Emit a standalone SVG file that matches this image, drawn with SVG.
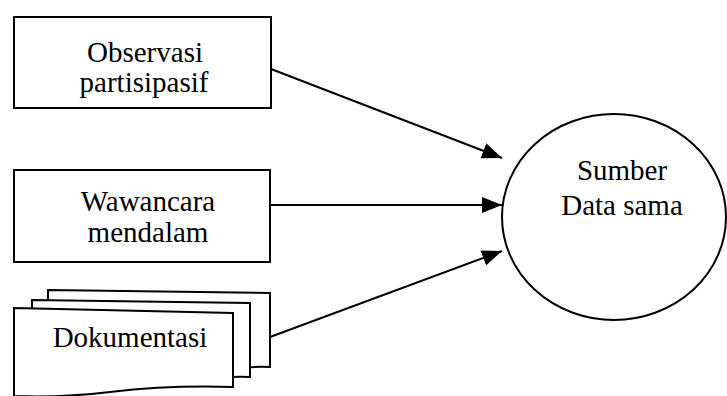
<svg xmlns="http://www.w3.org/2000/svg" width="727" height="396" viewBox="0 0 727 396">
<style>
.box{fill:#fff;stroke:#000;stroke-width:2}
.lbl{font-family:"Liberation Serif","Times New Roman",serif;font-size:29px;fill:#000;text-anchor:middle}
.conn{stroke:#000;stroke-width:2;fill:none;marker-end:url(#ah)}
</style>
<defs>
<marker id="ah" viewBox="0 0 20 16" refX="20" refY="8" markerWidth="20" markerHeight="16" markerUnits="userSpaceOnUse" orient="auto">
<path d="M0,0 L20,8 L0,16 Z" fill="#000"/>
</marker>
</defs>
<rect width="727" height="396" fill="#fff"/>
<g id="observasi">
<rect class="box" x="14" y="17" width="257" height="91"/>
<text class="lbl" x="145" y="62">Observasi</text>
<text class="lbl" x="144" y="92">partisipasif</text>
</g>
<g id="wawancara">
<rect class="box" x="14" y="170" width="256" height="92"/>
<text class="lbl" x="148" y="211">Wawancara</text>
<text class="lbl" x="148" y="242">mendalam</text>
</g>
<g id="dokumentasi">
<path class="box" d="M48,290 L270,293 L270,367 Q240,366 200,372 L48,372 Z"/>
<path class="box" d="M32,300 L250,303 L250,377 Q220,376 180,382 L32,382 Z"/>
<path class="box" d="M14,308 L233,313 L233,387 Q170,385 110,392 Q60,398 14,396 L14,398 Z"/>
<text class="lbl" x="130" y="347">Dokumentasi</text>
</g>
<g id="sumber">
<ellipse class="box" cx="614" cy="217" rx="112" ry="103"/>
<text class="lbl" x="622" y="180">Sumber</text>
<text class="lbl" x="622" y="215">Data sama</text>
</g>
<g id="connectors">
<line class="conn" x1="271" y1="69" x2="502" y2="158"/>
<line class="conn" x1="270" y1="205" x2="502" y2="205"/>
<line class="conn" x1="270" y1="337" x2="502" y2="251"/>
</g>
</svg>
